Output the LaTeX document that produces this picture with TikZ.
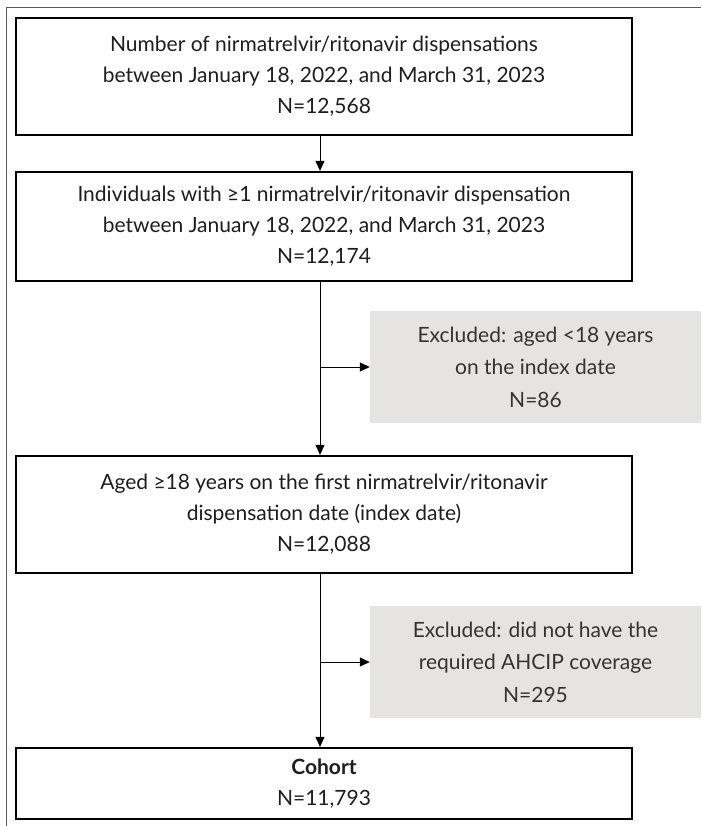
\documentclass[tikz,border=0pt]{standalone}
\usepackage{fontspec}
\setmainfont{Lato}
\usetikzlibrary{arrows.meta}
\definecolor{txt}{HTML}{1E1E1E}
\definecolor{greyfill}{HTML}{E6E4E2}
\definecolor{greytxt}{HTML}{333333}
\definecolor{frame}{HTML}{5A5A5A}
\tikzset{
  mainbox/.style={draw=black, line width=2.2pt, fill=white, minimum width=616pt,
    align=center, text=txt, inner sep=0pt, font=\fontsize{21}{31}\selectfont},
  exbox/.style={fill=greyfill, minimum width=331pt, minimum height=112pt,
    align=center, text=greytxt, inner sep=0pt, font=\fontsize{21}{32.5}\selectfont},
  conn/.style={draw=black, line width=1pt},
  arr/.style={conn, -{Triangle[length=10pt,width=9pt]}},
}
\begin{document}
\begin{tikzpicture}[x=1pt,y=-1pt]
\useasboundingbox (0,0) rectangle (701,826);
\draw[frame, line width=1.4pt] (6.5,826) -- (6.5,7.5) -- (701,7.5);

\node[mainbox, minimum height=117pt] (b1) at (324,76.5)
  {Number of nirmatrelvir/ritonavir dispensations\\between January 18, 2022, and March 31, 2023\\N=12,568};
\node[mainbox, minimum height=109pt] (b2) at (324,226.5)
  {Individuals with ≥1 nirmatrelvir/ritonavir dispensation\\between January 18, 2022, and March 31, 2023\\N=12,174};
\node[exbox] (e1) at (535.5,367)
  {Excluded: aged <18 years\\on the index date\\N=86};
\node[mainbox, minimum height=117pt] (b3) at (324,514.5)
  {Aged ≥18 years on the first nirmatrelvir/ritonavir\\dispensation date (index date)\\N=12,088};
\node[exbox] (e2) at (535.5,662)
  {Excluded: did not have the\\required AHCIP coverage\\N=295};
\node[mainbox, minimum height=71pt] (b4) at (324,783.5)
  {\textbf{Cohort}\\N=11,793};

\coordinate (x) at (320,0);
\draw[arr] (b1.south -| x) -- (b2.north -| x);
\draw[arr] (b2.south -| x) -- (b3.north -| x);
\draw[arr] (b3.south -| x) -- (b4.north -| x);
\draw[arr] (e1.west -| x) -- (e1.west);
\draw[arr] (e2.west -| x) -- (e2.west);
\end{tikzpicture}
\end{document}
